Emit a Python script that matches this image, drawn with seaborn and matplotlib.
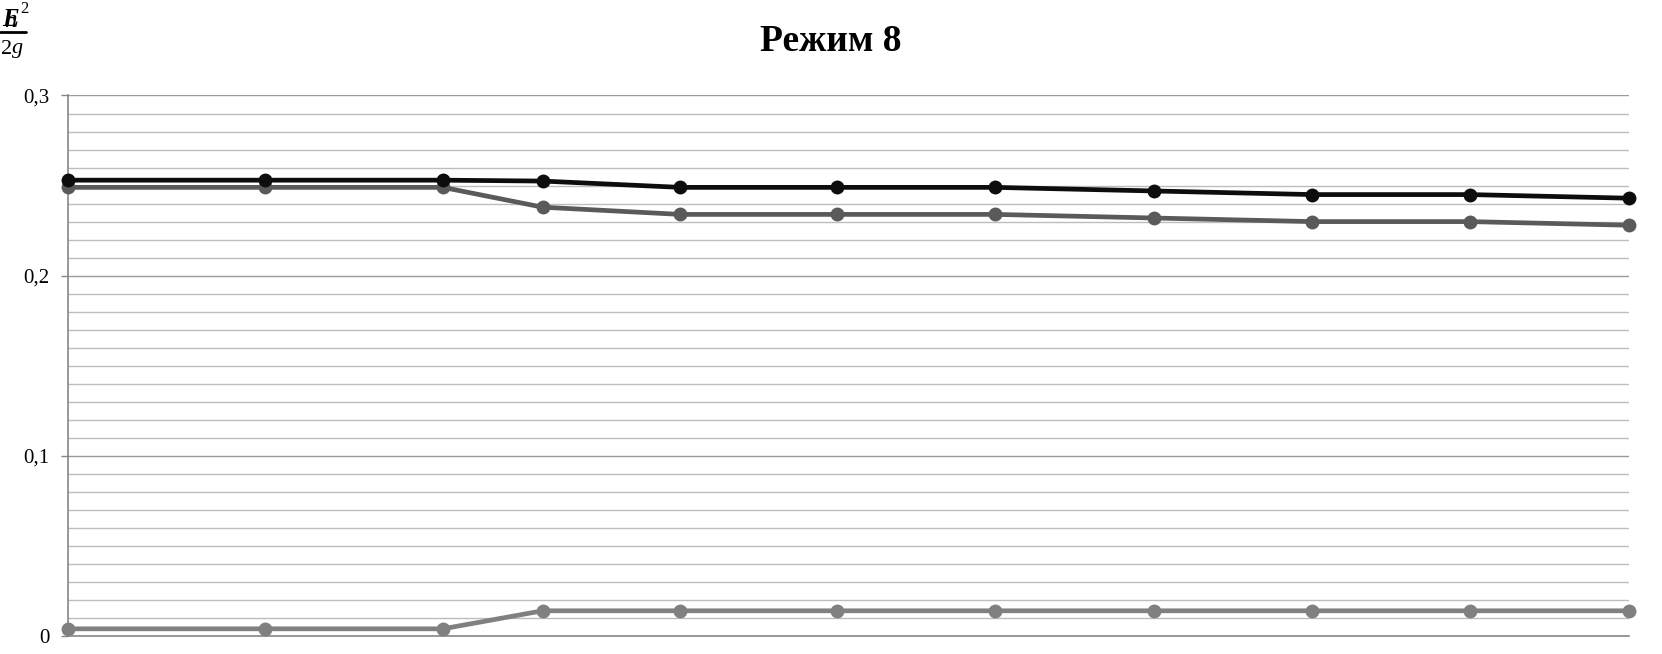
import numpy as np
import pandas as pd
import matplotlib
matplotlib.use("Agg")
import matplotlib.pyplot as plt
import seaborn as sns
from matplotlib.lines import Line2D

# Data
x_pos = [0.0, 1.86, 3.54, 4.48, 5.78, 7.26, 8.75, 10.25, 11.74, 13.23, 14.73]
series_black = [0.253, 0.253, 0.253, 0.2525, 0.249, 0.249, 0.249, 0.247, 0.245, 0.245, 0.243]
series_dark = [0.249, 0.249, 0.249, 0.238, 0.234, 0.234, 0.234, 0.232, 0.230, 0.230, 0.228]
series_light = [0.004, 0.004, 0.004, 0.014, 0.014, 0.014, 0.014, 0.014, 0.014, 0.014, 0.014]
y_ticks = [0, 0.1, 0.2, 0.3]
y_tick_labels = ["0", "0,1", "0,2", "0,3"]
title = "Режим 8"

sns.set_style("white")
plt.rcParams['font.family'] = ['Liberation Serif', 'DejaVu Serif']
plt.rcParams['text.color'] = 'black'

fig = plt.figure(figsize=(16.62, 6.54), dpi=100)
ax = fig.add_axes([0.0408, 0.0275, 0.9392, 0.8265])

for vals, col in [(series_light, "#808080"), (series_dark, "#5a5a5a"), (series_black, "#0d0d0d")]:
    sns.lineplot(x=x_pos, y=vals, ax=ax, color=col, linewidth=3.4, marker="o",
                 markersize=10, markeredgewidth=0, zorder=3, clip_on=False)

ax.set_xlim(x_pos[0], x_pos[-1])
ax.set_ylim(0, 0.3)
ax.set_yticks(y_ticks)
ax.set_yticklabels(y_tick_labels, fontsize=15)
ax.set_yticks(np.arange(0, 0.3001, 0.01), minor=True)
ax.set_xticks([])
ax.grid(True, which="major", axis="y", color="#9a9a9a", linewidth=1.0, zorder=0)
ax.grid(True, which="minor", axis="y", color="#bdbdbd", linewidth=1.0, zorder=0)
ax.tick_params(axis="y", which="major", left=True, length=5, width=1, color="#868686", pad=8,
               labelcolor="black")
ax.tick_params(axis="y", which="minor", left=False)
for s in ["top", "right"]:
    ax.spines[s].set_visible(False)
ax.spines["left"].set_color("#868686")
ax.spines["bottom"].set_color("#868686")
ax.spines["left"].set_linewidth(1.2)
ax.spines["bottom"].set_linewidth(1.2)

fig.text(0.5, 0.936, title, ha="center", va="center", fontsize=27, fontweight="bold", color="black")

# Overlapping y label (v^2/2g-like)
fig.text(2 / 1662, 1 - 20 / 654, "E", fontsize=18, fontstyle="italic", fontweight="bold", ha="left", va="center")
fig.text(4 / 1662, 1 - 21 / 654, "h", fontsize=18, fontstyle="italic", ha="left", va="center")
fig.text(20 / 1662, 1 - 9 / 654, "2", fontsize=12, ha="left", va="center")
fig.add_artist(Line2D([0.0, 26 / 1662], [1 - 32 / 654, 1 - 32 / 654], color="black", linewidth=2.0,
                      transform=fig.transFigure))
fig.text(1 / 1662, 1 - 49 / 654, "2", fontsize=16, ha="left", va="center")
fig.text(12 / 1662, 1 - 49 / 654, "g", fontsize=16, fontstyle="italic", ha="left", va="center")

fig.savefig("out.png", dpi=100)
